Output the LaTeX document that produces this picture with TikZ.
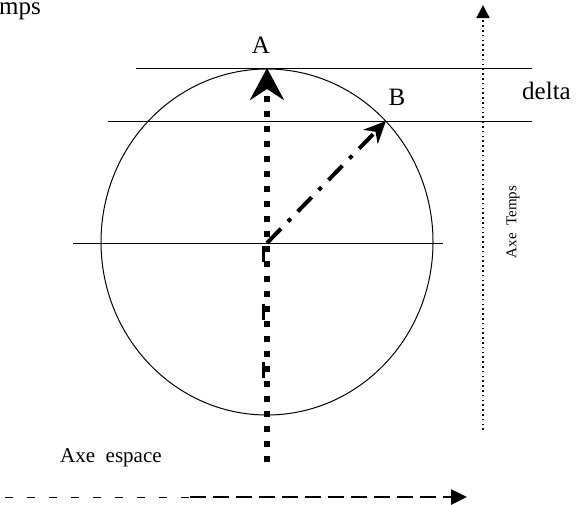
\documentclass[tikz,border=0pt]{standalone}
\usepackage{fontspec}
\setmainfont{Liberation Serif}
\usetikzlibrary{arrows.meta, positioning}
\tikzset{
  ln/.style={line width=1pt, black},
  lbl/.style={font=\fontsize{25}{28}\selectfont, inner sep=0pt},
  lblmd/.style={font=\fontsize{21}{24}\selectfont, inner sep=0pt},
  lblsm/.style={font=\fontsize{15}{17}\selectfont, inner sep=0pt},
  vecA/.style={line width=6pt, dash pattern=on 6pt off 9pt,
               -{Stealth[length=32pt, width=34pt, inset=11pt]}},
  vecB/.style={line width=4pt, dash pattern=on 20pt off 10pt on 4pt off 10pt,
               -{Stealth[length=22pt, width=20pt, inset=7pt]}},
  taxe/.style={line width=1.6pt, dash pattern=on 1.6pt off 3.2pt,
               -{Triangle[length=13pt, width=13pt]}},
  eaxe/.style={line width=2.6pt, dash pattern=on 16pt off 7pt,
               -{Triangle[length=16pt, width=15pt]}},
}
\begin{document}
\begin{tikzpicture}[x=1pt, y=-1pt]
  \useasboundingbox (0,0) rectangle (577,504);
  % cercle et droites
  \coordinate (O) at (267,242);
  \coordinate (C) at (267,243);
  \draw[ln] (O) ellipse [x radius=166pt, y radius=173pt];
  \coordinate (a1) at (136,68);  \coordinate (a2) at (532,68);
  \coordinate (b1) at (108,121); \coordinate (b2) at (532,121);
  \coordinate (c1) at (73,243);  \coordinate (c2) at (443,243);
  \draw[ln] (a1) -- (a2);
  \draw[ln] (b1) -- (b2);
  \draw[ln] (c1) -- (c2);
  % vecteurs
  \coordinate (bas) at (267,462);
  \coordinate (ptA) at (267,68);
  \coordinate (ptB) at (386,121);
  \draw[vecA] (bas) -- (ptA);
  \draw[line width=3pt, dash pattern=on 16pt off 42pt] (263.5,246) -- (263.5,385);
  \draw[vecB] (C) -- (ptB);
  % axes
  \coordinate (t0) at (483,430); \coordinate (t1) at (483,5);
  \draw[taxe] (t0) -- (t1);
  \coordinate (e0) at (5,497); \coordinate (e1) at (190,497); \coordinate (e2) at (467,497);
  \draw[line width=0.8pt, dash pattern=on 8pt off 14pt] (e0) -- (e1);
  \draw[eaxe] (e1) -- (e2);
  % textes
  \node[lbl] (labA) at (261,45) {A};
  \node[lbl] (labB) at (397,97) {B};
  \node[lbl, anchor=west] (labD) at (522,91) {delta};
  \node[lbl, anchor=base east] (labT) at (41,14) {Temps};
  \node[lblsm, rotate=90] (labTA) at (513,222) {Axe\ \ Temps};
  \node[lblmd, anchor=west] (labE) at (60,458) {Axe\ \ espace};
\end{tikzpicture}
\end{document}
